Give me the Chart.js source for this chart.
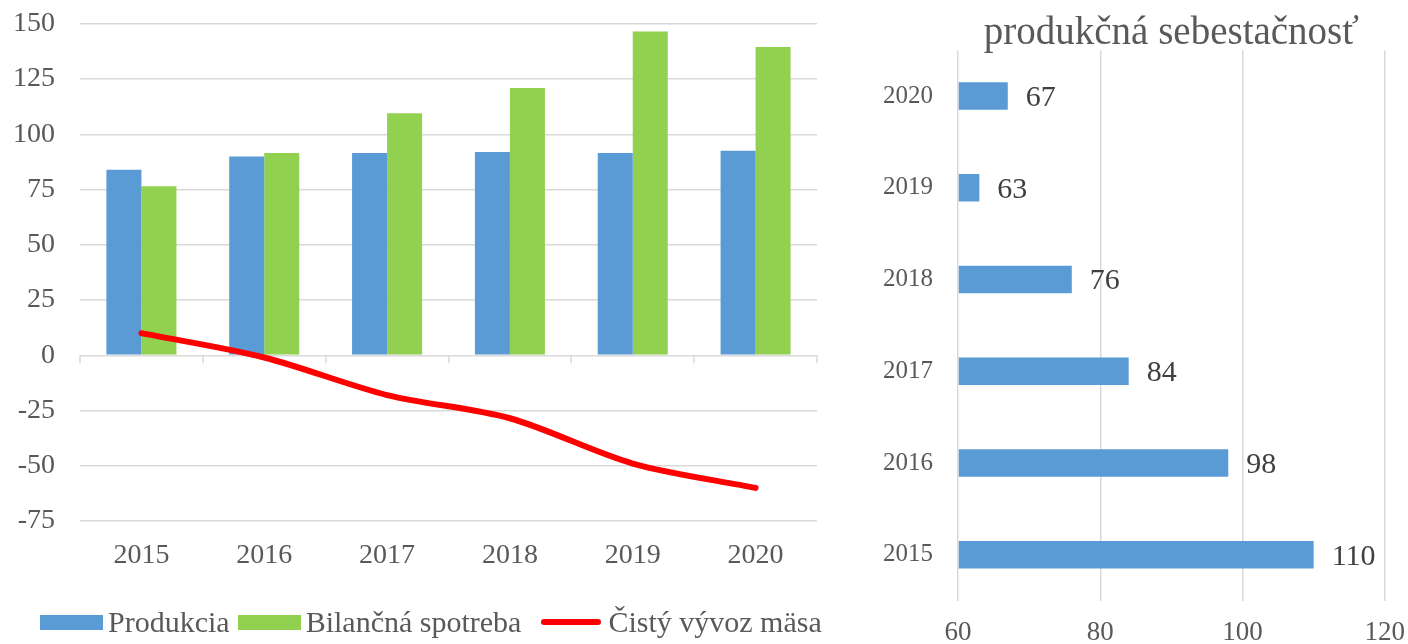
<!DOCTYPE html>
<html>
<head>
<meta charset="utf-8">
<script src="https://cdn.jsdelivr.net/npm/chart.js@4.4.1/dist/chart.umd.min.js"></script>
<style>
  html, body { margin: 0; padding: 0; background: #fff; overflow: hidden; }
  body { width: 1408px; height: 644px; position: relative; }
  .box { position: absolute; }
  #balanceBox { left: 0; top: -18px; }
  #selfBox { left: 840px; top: 0; }
  #balanceLegend {
    position: absolute; left: 40px; top: 607px;
    display: flex; align-items: center; white-space: nowrap;
    font: 30px "Liberation Serif", "Times New Roman", serif; line-height: 30px; color: #595959;
  }
  .legend-item { display: flex; align-items: center; margin-right: 8px; }
  .legend-key { width: 63px; height: 15px; margin-right: 5px; }
  .legend-key.line { width: 60px; height: 6px; border-radius: 3px; margin-left: 12px; margin-right: 7px; }
</style>
</head>
<body>
<div class="box" id="balanceBox"><canvas id="balanceChart" width="840" height="662"></canvas></div>
<div id="balanceLegend"></div>
<div class="box" id="selfBox"><canvas id="selfChart" width="581" height="678"></canvas></div>
<script>
const years = ['2015', '2016', '2017', '2018', '2019', '2020'];
const production = [84, 90, 91.5, 92, 91.5, 92.5];
const consumption = [76.5, 91.5, 109.5, 121, 146.5, 139.5];
const netExport = [10, -1, -18, -28.5, -49, -60];
const selfSufficiency = [110, 98, 84, 76, 63, 67];

const balanceRange = { min: -75, max: 150, step: 25 };
const sufficiencyRange = { min: 60, max: 120, step: 20 };

const serif = '"Liberation Serif", "Times New Roman", serif';
const textGrey = '#595959';
const gridGrey = '#d9d9d9';

// short tick marks hanging under the zero line, one per category boundary
const zeroTicks = {
    id: 'zeroTicks',
    beforeDatasetsDraw(chart) {
        const { ctx, chartArea, scales } = chart;
        const y0 = scales.y.getPixelForValue(0);
        const step = chartArea.width / years.length;
        ctx.save();
        ctx.strokeStyle = gridGrey;
        ctx.lineWidth = 1.5;
        for (let i = 0; i <= years.length; i++) {
            const px = Math.round(chartArea.left + i * step);
            ctx.beginPath();
            ctx.moveTo(px, y0);
            ctx.lineTo(px, y0 + 8);
            ctx.stroke();
        }
        ctx.restore();
    }
};

// numbers written right of each horizontal bar
const valueLabels = {
    id: 'valueLabels',
    afterDatasetsDraw(chart) {
        const { ctx } = chart;
        const meta = chart.getDatasetMeta(0);
        const data = chart.data.datasets[0].data;
        ctx.save();
        ctx.font = '30px ' + serif;
        ctx.fillStyle = '#404040';
        ctx.textAlign = 'left';
        ctx.textBaseline = 'middle';
        meta.data.forEach((bar, i) => ctx.fillText(String(data[i]), bar.x + 18, bar.y + 2));
        ctx.restore();
    }
};

const balanceChart = new Chart(document.getElementById('balanceChart'), {
    type: 'bar',
    data: {
        labels: years,
        datasets: [
            {
                label: 'Produkcia',
                data: production,
                backgroundColor: '#5b9bd5',
                categoryPercentage: 0.57,
                barPercentage: 1.0,
                order: 1
            },
            {
                label: 'Bilančná spotreba',
                data: consumption,
                backgroundColor: '#92d050',
                categoryPercentage: 0.57,
                barPercentage: 1.0,
                order: 1
            },
            {
                type: 'line',
                label: 'Čistý vývoz mäsa',
                data: netExport,
                borderColor: '#ff0000',
                backgroundColor: '#ff0000',
                borderWidth: 6,
                borderCapStyle: 'round',
                tension: 0.3,
                pointRadius: 0,
                order: 0
            }
        ]
    },
    options: {
        responsive: false,
        animation: false,
        layout: { padding: { top: 5, right: 23, bottom: 46, left: 0 } },
        scales: {
            x: {
                grid: { display: false },
                border: { display: false },
                ticks: { color: textGrey, font: { family: serif, size: 28 }, padding: 10 },
                afterFit: (scale) => { scale.height = 77; }
            },
            y: {
                min: balanceRange.min,
                max: balanceRange.max,
                grid: { color: gridGrey, lineWidth: 1.5, drawTicks: false },
                border: { display: false },
                ticks: {
                    stepSize: balanceRange.step,
                    color: textGrey,
                    font: { family: serif, size: 28 },
                    padding: 25
                },
                afterFit: (scale) => { scale.width = 80; }
            }
        },
        plugins: {
            tooltip: { enabled: false },
            legend: { display: false }
        }
    },
    plugins: [zeroTicks]
});

// legend row under the combined chart, built from the datasets
const legendEl = document.getElementById('balanceLegend');
balanceChart.data.datasets.forEach(ds => {
    const item = document.createElement('span');
    item.className = 'legend-item';
    const key = document.createElement('span');
    key.className = ds.type === 'line' ? 'legend-key line' : 'legend-key';
    key.style.background = ds.type === 'line' ? ds.borderColor : ds.backgroundColor;
    const text = document.createElement('span');
    text.textContent = ds.label;
    item.appendChild(key);
    item.appendChild(text);
    legendEl.appendChild(item);
});

new Chart(document.getElementById('selfChart'), {
    type: 'bar',
    data: {
        labels: years,
        datasets: [{
            label: 'produkčná sebestačnosť',
            data: selfSufficiency,
            base: sufficiencyRange.min,
            backgroundColor: '#5b9bd5',
            categoryPercentage: 0.6,
            barPercentage: 0.5
        }]
    },
    options: {
        indexAxis: 'y',
        responsive: false,
        animation: false,
        layout: { padding: { top: 17, right: 13, bottom: 13, left: 0 } },
        scales: {
            x: {
                min: sufficiencyRange.min,
                max: sufficiencyRange.max,
                grid: { color: gridGrey, lineWidth: 1.5, drawTicks: false },
                border: { display: false },
                ticks: {
                    stepSize: sufficiencyRange.step,
                    color: textGrey,
                    font: { family: serif, size: 27 },
                    padding: 16
                }
            },
            y: {
                reverse: true,
                grid: { display: false },
                border: { display: false },
                ticks: { color: textGrey, font: { family: serif, size: 25 }, padding: 17 },
                afterFit: (scale) => { scale.width = 118; }
            }
        },
        plugins: {
            tooltip: { enabled: false },
            legend: { display: false },
            title: {
                display: true,
                text: 'produkčná sebestačnosť',
                fullSize: false,
                color: textGrey,
                font: { family: serif, size: 39, weight: 'normal', lineHeight: 0.85 },
                padding: { top: 0, bottom: 0 }
            }
        }
    },
    plugins: [valueLabels]
});
</script>
</body>
</html>
